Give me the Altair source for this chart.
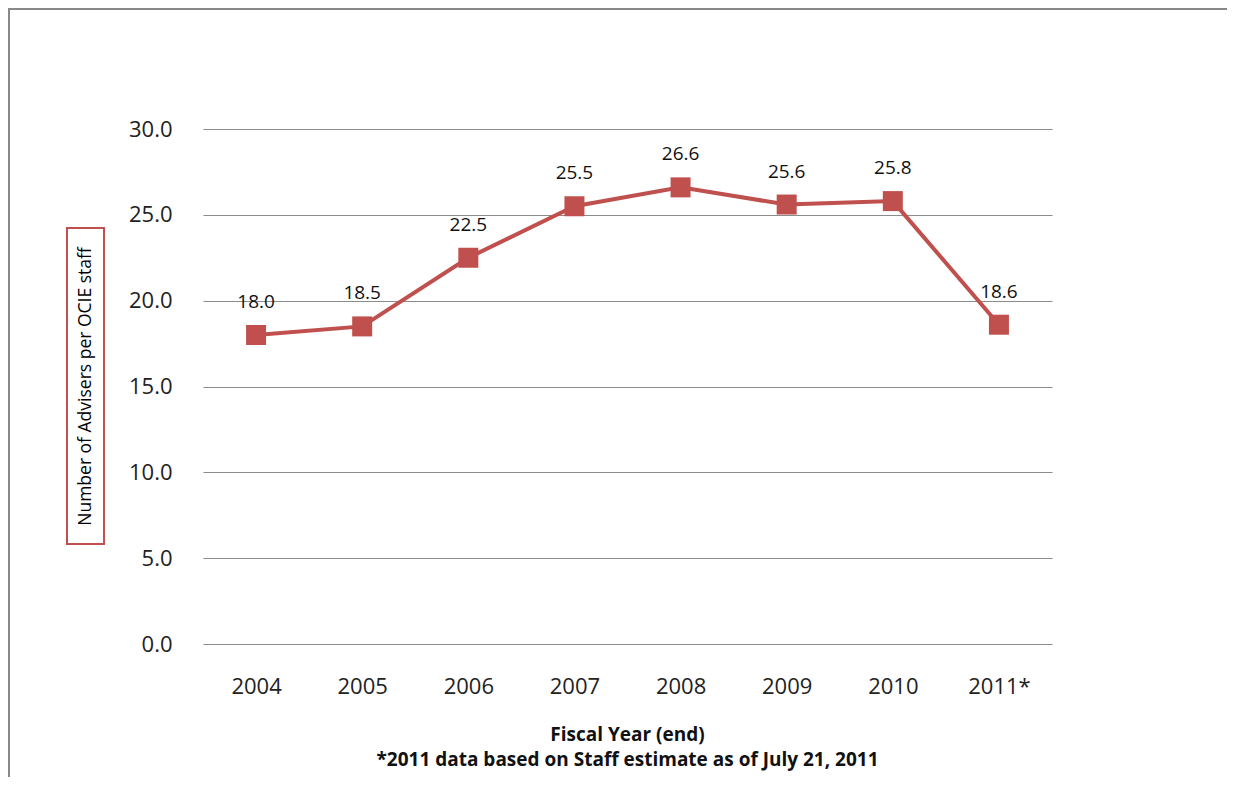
import altair as alt
import pandas as pd

years = ["2004", "2005", "2006", "2007", "2008", "2009", "2010", "2011*"]
values = [18.0, 18.5, 22.5, 25.5, 26.6, 25.6, 25.8, 18.6]
labels = ["18.0", "18.5", "22.5", "25.5", "26.6", "25.6", "25.8", "18.6"]
y_title = "Number of Advisers per OCIE staff"
x_title = "Fiscal Year (end)"
footnote = "*2011 data based on Staff estimate as of July 21, 2011"

df = pd.DataFrame({"year": years, "value": values, "label": labels})

W, H = 849, 515
PL, PT = 195, 121
TOTAL_W, TOTAL_H = 1219, 769
RED = "#C0504D"
GRID = "#8c8c8c"
FONT = "Open Sans"

xenc = alt.X("year:N", sort=years, title=None,
             scale=alt.Scale(type="point", padding=0.5),
             axis=alt.Axis(labelAngle=0, labelFont=FONT, labelFontSize=22,
                           labelColor="#222", labelPadding=32, ticks=False,
                           domain=False, grid=False))
yenc = alt.Y("value:Q", title=None,
             scale=alt.Scale(domain=[0, 30], nice=False),
             axis=alt.Axis(values=[0, 5, 10, 15, 20, 25, 30], format=".1f",
                           labelFont=FONT, labelFontSize=22, labelColor="#222",
                           labelPadding=31, ticks=False, domain=False,
                           grid=True, gridColor=GRID, gridWidth=1.2))

base = alt.Chart(df)

line = base.mark_line(color=RED, strokeWidth=4).encode(x=xenc, y=yenc)
pts = base.mark_point(shape="square", size=400, filled=True, color=RED,
                      opacity=1).encode(x="year:N", y="value:Q")
txt = base.mark_text(font=FONT, fontSize=19, color="#111", dy=-33).encode(
    x="year:N", y="value:Q", text="label:N")

ann = pd.DataFrame({"t": [0]})
abase = alt.Chart(ann)

ytxt = abase.mark_text(font=FONT, fontSize=17.5, angle=270, color="#000",
                       fontWeight=500, baseline="middle", align="center").encode(
    x=alt.value(85.5 - 203), y=alt.value(H / 2), text=alt.value(y_title))
ybox = abase.mark_rect(fill=None, stroke=RED, strokeWidth=2).encode(
    x=alt.value(67 - 203), x2=alt.value(104 - 203),
    y=alt.value(228 - 129), y2=alt.value(544 - 129))
xt = abase.mark_text(font=FONT, fontSize=19, fontWeight="bold", color="#111",
                     baseline="middle").encode(
    x=alt.value(W / 2), y=alt.value(735 - 129), text=alt.value(x_title))
fn = abase.mark_text(font=FONT, fontSize=19, fontWeight="bold", color="#111",
                     baseline="middle").encode(
    x=alt.value(W / 2), y=alt.value(760 - 129), text=alt.value(footnote))
top_rule = abase.mark_rule(color="#888", strokeWidth=2).encode(
    x=alt.value(-PL), x2=alt.value(TOTAL_W - PL), y=alt.value(-PT + 1))
left_rule = abase.mark_rule(color="#888", strokeWidth=2).encode(
    x=alt.value(-PL + 1), y=alt.value(-PT), y2=alt.value(TOTAL_H - PT))

chart = alt.layer(line, pts, txt, ybox, ytxt, xt, fn, top_rule, left_rule).properties(
    width=W, height=H,
    autosize=alt.AutoSizeParams(type="none"),
    padding={"left": PL, "top": PT, "right": TOTAL_W - PL - W,
             "bottom": TOTAL_H - PT - H},
).configure(background="white").configure_view(stroke=None, strokeWidth=0)

chart.save("out.html", embed_options={"renderer": "svg", "actions": False})
